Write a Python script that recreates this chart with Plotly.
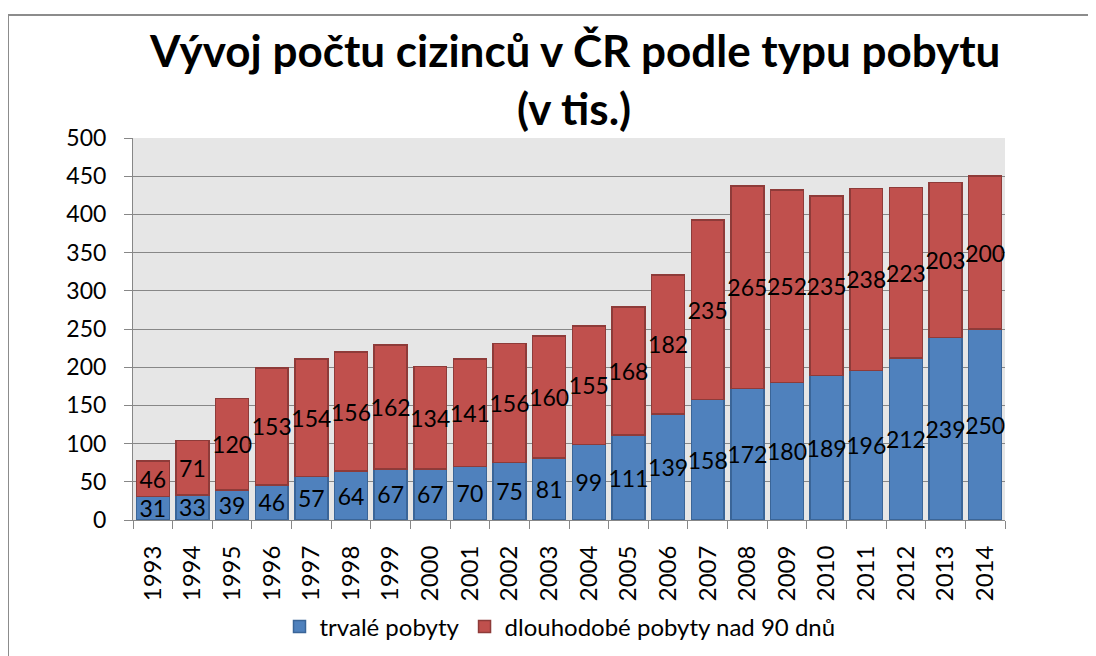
import plotly.graph_objects as go

years = [str(y) for y in range(1993, 2015)]
trvale = [31, 33, 39, 46, 57, 64, 67, 67, 70, 75, 81, 99, 111, 139, 158, 172, 180, 189, 196, 212, 239, 250]
dlouhodobe = [46, 71, 120, 153, 154, 156, 162, 134, 141, 156, 160, 155, 168, 182, 235, 265, 252, 235, 238, 223, 203, 200]
y_ticks = list(range(0, 501, 50))

FONT = "Lato"
W, H = 1096, 656
OFF = 8  # page body offset
L, R, T, B = 133 - OFF, 1005 - OFF, 138 - OFF, 520 - OFF

fig = go.Figure()
fig.add_trace(go.Bar(
    x=years, y=trvale, name="trvalé pobyty",
    marker=dict(color="#4F81BD", line=dict(color="#3A6598", width=1.5)),
    text=[str(v) for v in trvale], textposition="inside", insidetextanchor="middle",
    textangle=0, constraintext="none",
    insidetextfont=dict(family=FONT, size=23, color="black"),
))
fig.add_trace(go.Bar(
    x=years, y=dlouhodobe, name="dlouhodobé pobyty nad 90 dnů",
    marker=dict(color="#C0504D", line=dict(color="#8E3B39", width=1.5)),
    text=[str(v) for v in dlouhodobe], textposition="inside", insidetextanchor="middle",
    textangle=0, constraintext="none",
    insidetextfont=dict(family=FONT, size=23, color="black"),
))

pw, ph = R - L, B - T
def px(x): return (x - OFF - L) / pw
def py(y): return (B - (y - OFF)) / ph

fig.update_layout(
    width=W, height=H,
    margin=dict(l=L, r=W - R, t=T, b=H - B),
    barmode="stack", bargap=0.17,
    plot_bgcolor="#E6E6E6", paper_bgcolor="white",
    font=dict(family=FONT, size=22, color="black"),
    legend=dict(orientation="h", x=px(560), xanchor="center", y=py(627), yanchor="middle",
                font=dict(family=FONT, size=24), traceorder="normal", itemwidth=30),
    xaxis=dict(type="category", tickangle=-90, showline=True, linecolor="#878787", linewidth=1,
               ticks="outside", tickson="boundaries", ticklen=8, tickcolor="#878787",
               ticklabelstandoff=15,
               tickfont=dict(family=FONT, size=24), showgrid=False, automargin=False),
    yaxis=dict(range=[0, 500], tickvals=y_ticks, showline=True, linecolor="#878787", linewidth=1,
               ticks="outside", ticklen=8, tickcolor="#878787", gridcolor="#878787", gridwidth=1,
               ticklabelstandoff=13,
               tickfont=dict(family=FONT, size=23), zeroline=False, automargin=False),
    annotations=[
        dict(text="<b>Vývoj počtu cizinců v ČR podle typu pobytu</b>", xref="paper", yref="paper",
             x=px(574), y=py(50), xanchor="center", yanchor="middle", showarrow=False,
             font=dict(family=FONT, size=44, color="black")),
        dict(text="<b>(v tis.)</b>", xref="paper", yref="paper",
             x=px(574), y=py(108), xanchor="center", yanchor="middle", showarrow=False,
             font=dict(family=FONT, size=44, color="black")),
    ],
    shapes=[dict(type="rect", xref="paper", yref="paper",
                 x0=px(8), x1=px(1120), y0=py(680), y1=py(15),
                 line=dict(color="#8C8C8C", width=2), fillcolor="rgba(0,0,0,0)", layer="below")],
    showlegend=True,
)

fig.write_html("out.html")
